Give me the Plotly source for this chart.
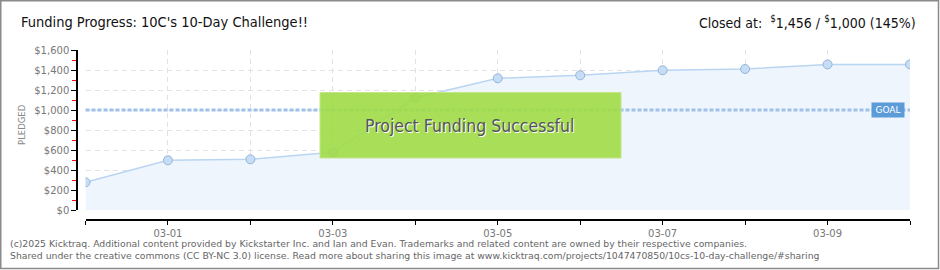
import plotly.graph_objects as go

# ---- data ----
dates = ["2025-02-28", "2025-03-01", "2025-03-02", "2025-03-03", "2025-03-04",
         "2025-03-05", "2025-03-06", "2025-03-07", "2025-03-08", "2025-03-09",
         "2025-03-10"]
pledged = [277, 497, 507, 577, 1123, 1317, 1347, 1397, 1410, 1456, 1456]
x_tick_vals = ["2025-03-01", "2025-03-03", "2025-03-05", "2025-03-07", "2025-03-09"]
x_tick_text = ["03-01", "03-03", "03-05", "03-07", "03-09"]
y_ticks = [0, 200, 400, 600, 800, 1000, 1200, 1400, 1600]
y_tick_text = ["$0", "$200", "$400", "$600", "$800", "$1,000", "$1,200", "$1,400", "$1,600"]
goal = 1000
title_text = "Funding Progress: 10C's 10-Day Challenge!!"
closed_text = "Closed at:  <sup>$</sup>1,456 / <sup>$</sup>1,000 (145%)"
banner_text = "Project Funding Successful"
footer_lines = [
    "(c)2025 Kicktraq. Additional content provided by Kickstarter Inc. and Ian and Evan. Trademarks and related content are owned by their respective companies.",
    "Shared under the creative commons (CC BY-NC 3.0) license. Read more about sharing this image at www.kicktraq.com/projects/1047470850/10cs-10-day-challenge/#sharing",
]

# ---- layout geometry (pixels) ----
W, H = 940, 270
L, R, T, B = 77, 30, 50, 50
PW, PH = W - L - R, H - T - B
DAY_MS = 86400000


def px(x):
    return (x - L) / PW


def py(y):
    return (H - B - y) / PH


COND = "DejaVu Sans Condensed, Liberation Sans Narrow, sans-serif"
GRID = dict(showgrid=True, gridcolor="#e2e2e2", griddash="5px,4px", gridwidth=1)

fig = go.Figure()
fig.add_trace(go.Scatter(
    x=dates, y=pledged, mode="lines+markers",
    line=dict(color="#b9d5f2", width=1.5),
    marker=dict(size=9, color="#c6ddf6", line=dict(color="#96b4d8", width=1)),
    fill="tozeroy", fillcolor="#eef5fd",
    hoverinfo="skip", showlegend=False,
))

fig.update_layout(
    width=W, height=H,
    margin=dict(l=L, r=R, t=T, b=B),
    paper_bgcolor="white", plot_bgcolor="white",
    xaxis=dict(
        type="date", range=[dates[0], dates[-1]],
        domain=[px(85.5), 1], anchor="free", position=0,
        tickvals=x_tick_vals, ticktext=x_tick_text,
        **GRID,
        showline=True, linecolor="black", linewidth=1.5,
        ticks="outside", ticklen=4, tickcolor="black", tickwidth=1,
        minor=dict(tick0=dates[0], dtick=DAY_MS, ticks="outside", ticklen=4,
                   tickcolor="black", tickwidth=1, **GRID),
        tickfont=dict(family="DejaVu Sans", size=10, color="#777"),
        zeroline=False, fixedrange=True,
    ),
    yaxis=dict(
        range=[0, 1600], domain=[py(210), 1], anchor="free", position=0,
        tickvals=y_ticks, ticktext=y_tick_text,
        **GRID,
        showline=True, linecolor="black", linewidth=1.5,
        ticks="outside", ticklen=5, tickcolor="black", tickwidth=1,
        minor=dict(dtick=100, ticks="outside", ticklen=4, tickcolor="red",
                   tickwidth=1, showgrid=False),
        tickfont=dict(family="DejaVu Sans", size=10, color="#777"),
        zeroline=False, fixedrange=True,
    ),
    shapes=[
        # goal line
        dict(type="line", xref="paper", yref="y", x0=px(85.5), x1=1,
             y0=goal, y1=goal, line=dict(color="#9fc0e8", width=3, dash="4px,2px"),
             layer="above"),
        # success banner
        dict(type="rect", xref="paper", yref="paper",
             x0=px(320), x1=px(621), y0=py(158), y1=py(92.5),
             fillcolor="rgba(160,220,70,0.9)", line=dict(color="#c3e68a", width=1),
             layer="above"),
        # outer frame
        dict(type="rect", xref="paper", yref="paper",
             x0=px(0.75), x1=px(938.5), y0=py(268.5), y1=py(0.75),
             line=dict(color="#8a8a8a", width=1.5), fillcolor="rgba(0,0,0,0)"),
    ],
    annotations=[
        dict(text=title_text, xref="paper", yref="paper", x=px(19), y=py(22),
             xanchor="left", yanchor="middle", showarrow=False,
             font=dict(family=COND, size=14.5, color="#111")),
        dict(text=closed_text, xref="paper", yref="paper", x=px(918), y=py(22),
             xanchor="right", yanchor="middle", showarrow=False,
             font=dict(family=COND, size=14, color="#111")),
        dict(text=banner_text, xref="paper", yref="paper", x=px(469), y=py(126),
             xanchor="center", yanchor="middle", showarrow=False,
             font=dict(family=COND, size=17.5, color="#555",
                       shadow="1px 1px 0px #ffffff")),
        dict(text="GOAL", xref="paper", yref="y", x=px(888), y=goal,
             xanchor="center", yanchor="middle", showarrow=False,
             bgcolor="#5b9bd8", borderpad=2, width=28,
             font=dict(family="DejaVu Sans", size=9, color="white")),
        dict(text="PLEDGED", xref="paper", yref="paper", x=px(22), y=py(125),
             xanchor="center", yanchor="middle", showarrow=False, textangle=-90,
             font=dict(family="DejaVu Sans", size=8.5, color="#888")),
        dict(text=footer_lines[0], xref="paper", yref="paper", x=px(8), y=py(243),
             xanchor="left", yanchor="middle", showarrow=False,
             font=dict(family="DejaVu Sans", size=9.3, color="#666")),
        dict(text=footer_lines[1], xref="paper", yref="paper", x=px(8), y=py(256),
             xanchor="left", yanchor="middle", showarrow=False,
             font=dict(family="DejaVu Sans", size=9.3, color="#666")),
    ],
)

fig.write_html("out.html", config={"displayModeBar": False})
